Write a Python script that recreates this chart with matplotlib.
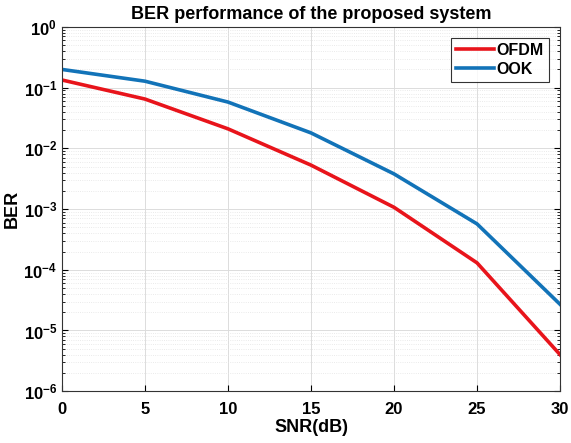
import numpy as np
import matplotlib.pyplot as plt
from matplotlib.ticker import LogLocator, NullFormatter

plt.rcParams['font.family'] = ['Liberation Sans', 'DejaVu Sans']
plt.rcParams['font.weight'] = 'bold'

# data
snr = [0, 5, 10, 15, 20, 25, 30]
ber_ofdm = [0.134, 0.065, 0.021, 0.0053, 0.00107, 1.3e-4, 4.0e-6]
ber_ook = [0.20, 0.128, 0.058, 0.018, 0.0038, 5.7e-4, 2.7e-5]

fig = plt.figure(figsize=(5.71, 4.43), dpi=100)
ax = fig.add_axes([0.1086, 0.117, 0.8722, 0.822])

ax.semilogy(snr, ber_ofdm, color='#E8141B', lw=2.6, label='OFDM')
ax.semilogy(snr, ber_ook, color='#1273B8', lw=2.6, label='OOK')

ax.set_xlim(0, 30)
ax.set_ylim(1e-6, 1)
ax.set_xticks(snr)
ax.yaxis.set_major_locator(LogLocator(base=10, numticks=10))
ax.yaxis.set_minor_locator(LogLocator(base=10, subs=np.arange(2, 10), numticks=10))
ax.yaxis.set_minor_formatter(NullFormatter())

ax.grid(True, which='major', color='#dcdcdc', lw=0.7, ls='-')
ax.grid(True, which='minor', color='#e3e3e3', lw=0.6, ls=':')
ax.set_axisbelow(True)

ax.tick_params(which='both', direction='in', top=False, right=True, labelsize=12)
ax.tick_params(which='major', length=4)
ax.tick_params(which='minor', length=2)
ax.tick_params(axis='x', pad=8)
for s in ax.spines.values():
    s.set_color('#333333')

ax.set_xlabel('SNR(dB)', fontsize=13, fontweight='bold', labelpad=1)
ax.set_ylabel('BER', fontsize=13, fontweight='bold', labelpad=2)
ax.set_title('BER performance of the proposed system', fontsize=13, fontweight='bold', pad=6)

leg = ax.legend(loc='upper right', fontsize=11.5, frameon=True, fancybox=False,
                edgecolor='black', handlelength=2.4, borderaxespad=0.7,
                handletextpad=0.15, borderpad=0.3, labelspacing=0.25)
leg.get_frame().set_linewidth(0.8)

fig.savefig('out.png', dpi=100)
